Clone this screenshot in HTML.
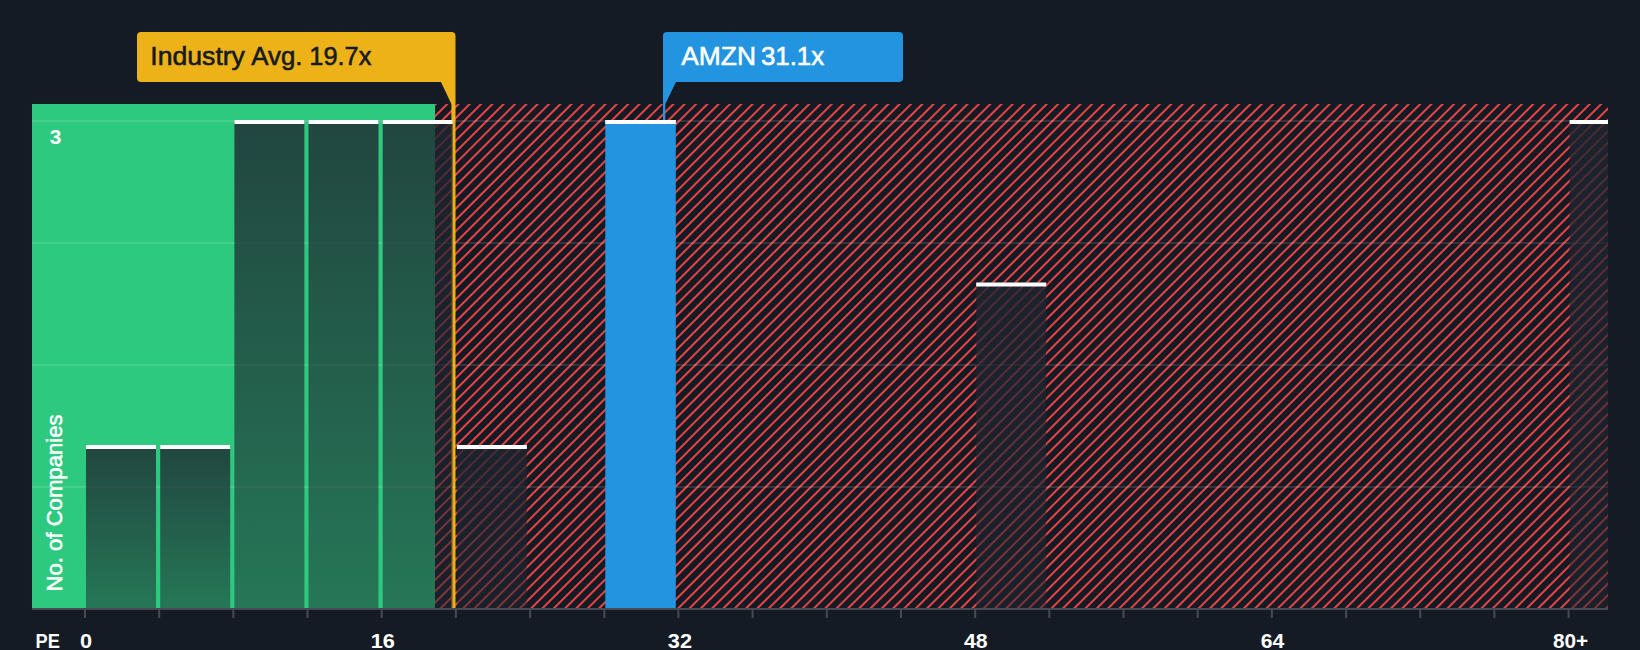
<!DOCTYPE html>
<html lang="en"><head><meta charset="utf-8"><title>AMZN PE vs Industry</title>
<style>
html,body{margin:0;padding:0;background:#151b24;}
body{width:1640px;height:650px;overflow:hidden;}
svg{display:block;}
text{font-family:"Liberation Sans",Arial,sans-serif;}
</style></head><body>
<svg width="1640" height="650" viewBox="0 0 1640 650">
<defs>
<pattern id="hatch" patternUnits="userSpaceOnUse" width="8" height="8" patternTransform="translate(-4.6 0) rotate(45)">
<rect x="0.1" y="0" width="1.8" height="8" fill="#ff4848"/>
</pattern>
<linearGradient id="bg" x1="0" y1="0" x2="0" y2="1">
<stop offset="0" stop-color="#1e2530" stop-opacity="0.8"/>
<stop offset="1" stop-color="#1e2530" stop-opacity="0.5"/>
</linearGradient>
<clipPath id="plot"><rect x="32" y="104" width="1576" height="504"/></clipPath>
</defs>
<rect x="0" y="0" width="1640" height="650" fill="#151b24"/>
<g clip-path="url(#plot)">
<rect x="32" y="104" width="403" height="504" fill="#2dc97e"/>
<rect x="435" y="104" width="1173" height="504" fill="url(#hatch)"/>
</g>

<path d="M141 32 H451.5 a4 4 0 0 1 4 4 V608 H451.4 V104 L441 82 H141 a4 4 0 0 1 -4 -4 V36 a4 4 0 0 1 4 -4 Z" fill="#eeb219"/>
<g clip-path="url(#plot)">
<rect x="32" y="120" width="1576" height="2" fill="#ffffff" fill-opacity="0.12"/>
<rect x="32" y="242" width="1576" height="2" fill="#ffffff" fill-opacity="0.12"/>
<rect x="32" y="364" width="1576" height="2" fill="#ffffff" fill-opacity="0.12"/>
<rect x="32" y="486" width="1576" height="2" fill="#ffffff" fill-opacity="0.12"/>
<rect x="86.0" y="445" width="70" height="163" fill="url(#bg)"/>
<rect x="160.2" y="445" width="70" height="163" fill="url(#bg)"/>
<rect x="234.4" y="120" width="70" height="488" fill="url(#bg)"/>
<rect x="308.5" y="120" width="70" height="488" fill="url(#bg)"/>
<rect x="382.7" y="120" width="70" height="488" fill="url(#bg)"/>
<rect x="456.9" y="445" width="70" height="163" fill="url(#bg)"/>
<rect x="976.2" y="282.5" width="70" height="325.5" fill="url(#bg)"/>
<rect x="1569.6" y="120" width="70" height="488" fill="url(#bg)"/>
<rect x="605.3" y="120" width="70.5" height="488" fill="#2394df"/>
<rect x="86.0" y="445" width="70" height="4" fill="#ffffff"/>
<rect x="160.2" y="445" width="70" height="4" fill="#ffffff"/>
<rect x="234.4" y="120" width="70" height="4" fill="#ffffff"/>
<rect x="308.5" y="120" width="70" height="4" fill="#ffffff"/>
<rect x="382.7" y="120" width="70" height="4" fill="#ffffff"/>
<rect x="456.9" y="445" width="70" height="4" fill="#ffffff"/>
<rect x="976.2" y="282.5" width="70" height="4" fill="#ffffff"/>
<rect x="1569.6" y="120" width="70" height="4" fill="#ffffff"/>
<rect x="605.3" y="120" width="70.5" height="4" fill="#ffffff"/>
</g>
<rect x="32" y="608" width="1576" height="2" fill="#464a52"/>
<rect x="84.0" y="610" width="2" height="8" fill="#464a52"/>
<rect x="158.2" y="610" width="2" height="8" fill="#464a52"/>
<rect x="232.4" y="610" width="2" height="8" fill="#464a52"/>
<rect x="306.5" y="610" width="2" height="8" fill="#464a52"/>
<rect x="380.7" y="610" width="2" height="8" fill="#464a52"/>
<rect x="454.9" y="610" width="2" height="8" fill="#464a52"/>
<rect x="529.1" y="610" width="2" height="8" fill="#464a52"/>
<rect x="603.3" y="610" width="2" height="8" fill="#464a52"/>
<rect x="677.4" y="610" width="2" height="8" fill="#464a52"/>
<rect x="751.6" y="610" width="2" height="8" fill="#464a52"/>
<rect x="825.8" y="610" width="2" height="8" fill="#464a52"/>
<rect x="900.0" y="610" width="2" height="8" fill="#464a52"/>
<rect x="974.2" y="610" width="2" height="8" fill="#464a52"/>
<rect x="1048.3" y="610" width="2" height="8" fill="#464a52"/>
<rect x="1122.5" y="610" width="2" height="8" fill="#464a52"/>
<rect x="1196.7" y="610" width="2" height="8" fill="#464a52"/>
<rect x="1270.9" y="610" width="2" height="8" fill="#464a52"/>
<rect x="1345.1" y="610" width="2" height="8" fill="#464a52"/>
<rect x="1419.2" y="610" width="2" height="8" fill="#464a52"/>
<rect x="1493.4" y="610" width="2" height="8" fill="#464a52"/>
<rect x="1567.6" y="610" width="2" height="8" fill="#464a52"/>
<text y="65.3" font-size="26.4" fill="#151b24" stroke="#151b24" stroke-width="0.6"><tspan id="i1" x="150.37" textLength="94.54" lengthAdjust="spacingAndGlyphs">Industry</tspan> <tspan id="i2" x="251.30" textLength="51.25" lengthAdjust="spacingAndGlyphs">Avg.</tspan> <tspan id="i3" x="309.35" textLength="61.96" lengthAdjust="spacingAndGlyphs">19.7x</tspan></text>
<path d="M667 32 H899 a4 4 0 0 1 4 4 V78 a4 4 0 0 1 -4 4 H676 L665.3 104 V120 H663 V36 a4 4 0 0 1 4 -4 Z" fill="#2394df"/>
<text y="65.3" font-size="26.4" fill="#ffffff" stroke="#ffffff" stroke-width="0.55"><tspan id="a1" x="681.18" textLength="74.77" lengthAdjust="spacingAndGlyphs">AMZN</tspan> <tspan id="a2" x="760.98" textLength="63.15" lengthAdjust="spacingAndGlyphs">31.1x</tspan></text>
<text id="l3" x="49.86" y="144" font-size="20" font-weight="bold" fill="#ffffff" textLength="11.58" lengthAdjust="spacingAndGlyphs">3</text>
<text transform="translate(62 591.5) rotate(-90)" font-size="22.5" fill="#ffffff" stroke="#ffffff" stroke-width="0.55" textLength="177" lengthAdjust="spacingAndGlyphs">No. of Companies</text>
<text id="lpe" x="35.59" y="648" font-size="20" font-weight="bold" fill="#ffffff" textLength="24.34" lengthAdjust="spacingAndGlyphs">PE</text>
<text id="lx0" x="80.01" y="648" font-size="20" font-weight="bold" fill="#ffffff" textLength="12.06" lengthAdjust="spacingAndGlyphs">0</text>
<text id="lx16" x="370.74" y="648" font-size="20" font-weight="bold" fill="#ffffff" textLength="24.15" lengthAdjust="spacingAndGlyphs">16</text>
<text id="lx32" x="667.83" y="648" font-size="20" font-weight="bold" fill="#ffffff" textLength="24.15" lengthAdjust="spacingAndGlyphs">32</text>
<text id="lx48" x="963.93" y="648" font-size="20" font-weight="bold" fill="#ffffff" textLength="23.71" lengthAdjust="spacingAndGlyphs">48</text>
<text id="lx64" x="1260.80" y="648" font-size="20" font-weight="bold" fill="#ffffff" textLength="23.51" lengthAdjust="spacingAndGlyphs">64</text>
<text id="lx80" x="1553.02" y="648" font-size="20" font-weight="bold" fill="#ffffff" textLength="35.20" lengthAdjust="spacingAndGlyphs">80+</text>
</svg></body></html>
